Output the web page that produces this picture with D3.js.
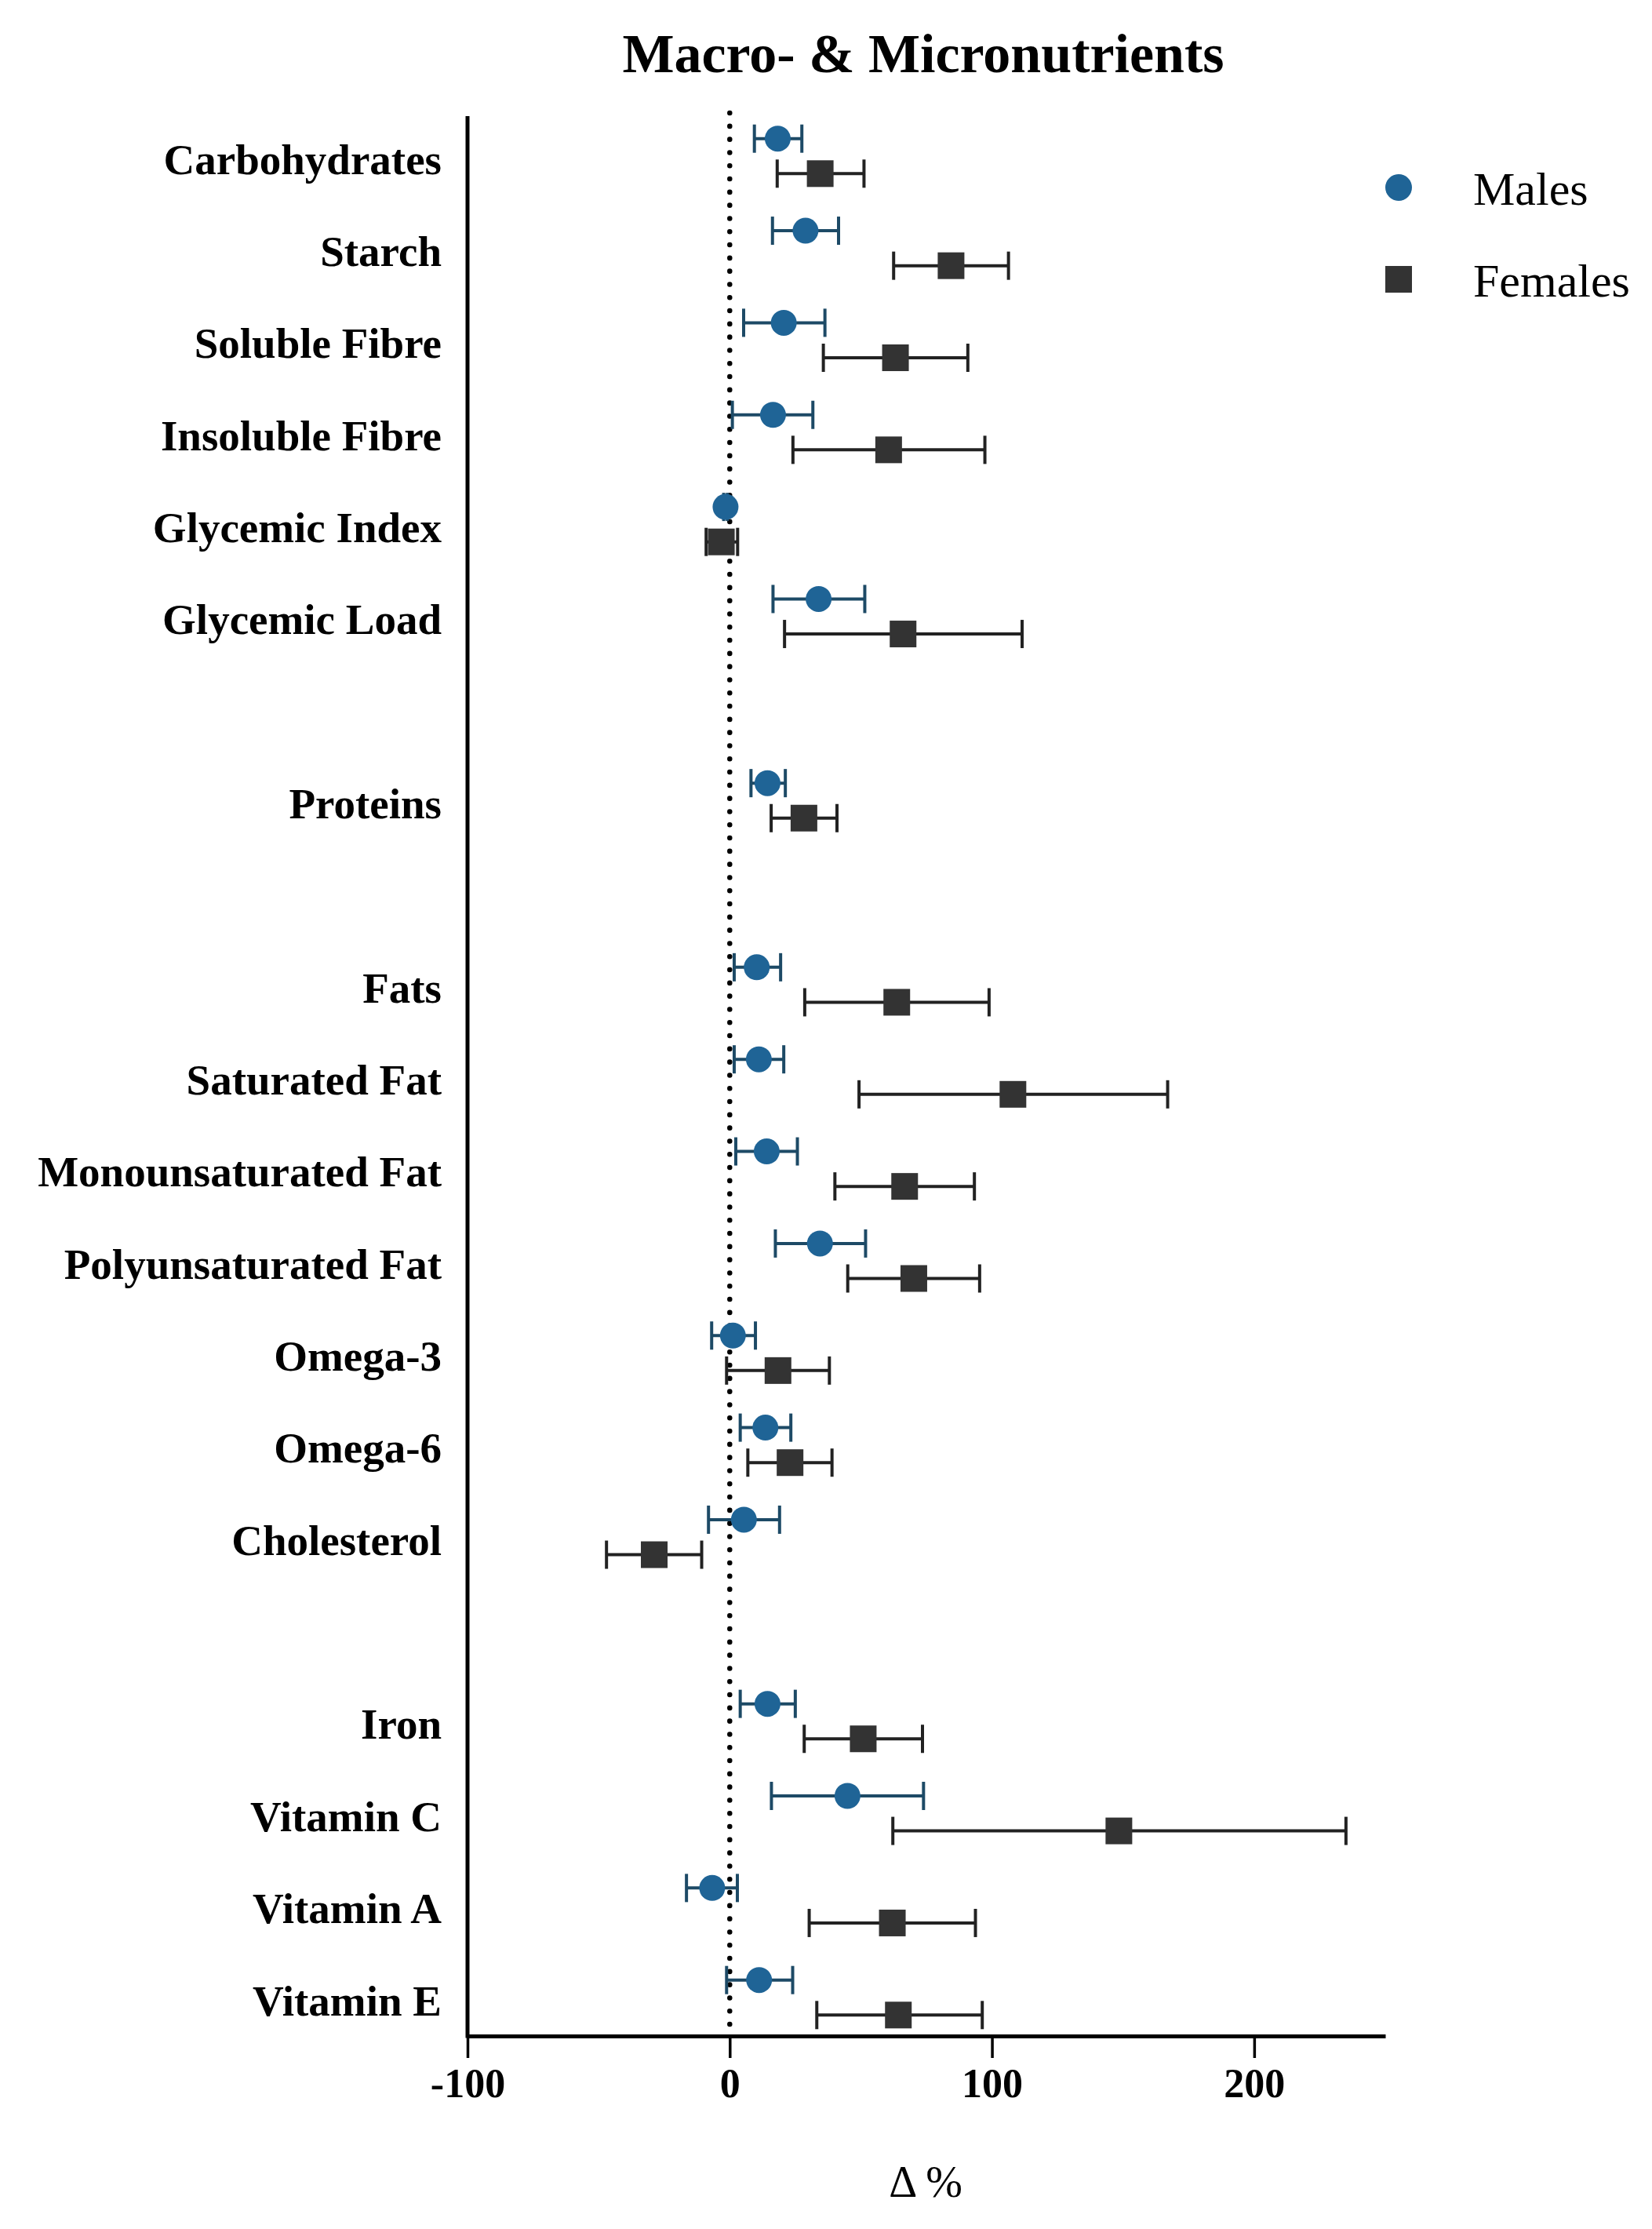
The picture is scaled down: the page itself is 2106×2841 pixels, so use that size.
<!DOCTYPE html>
<html>
<head>
<meta charset="utf-8">
<script src="https://cdn.jsdelivr.net/npm/d3@7"></script>
<style>
  body { margin: 0; background: #fff; }
  text { font-family: "Liberation Serif", "DejaVu Serif", serif; }
</style>
</head>
<body>
<div id="chart"></div>
<script>
// global const
const width = 2106, height = 2841;
const colors = { male: "#1f6496", maleBar: "#1d4a66", female: "#333333", femaleBar: "#222222", axis: "#000" };

// data
const categories = ["Carbohydrates", "Starch", "Soluble Fibre", "Insoluble Fibre", "Glycemic Index", "Glycemic Load",
    "Proteins",
    "Fats", "Saturated Fat", "Monounsaturated Fat", "Polyunsaturated Fat", "Omega-3", "Omega-6", "Cholesterol",
    "Iron", "Vitamin C", "Vitamin A", "Vitamin E"];
// rows of the chart, gaps between groups
const slots = ["Carbohydrates", "Starch", "Soluble Fibre", "Insoluble Fibre", "Glycemic Index", "Glycemic Load", "gap1",
    "Proteins", "gap2",
    "Fats", "Saturated Fat", "Monounsaturated Fat", "Polyunsaturated Fat", "Omega-3", "Omega-6", "Cholesterol", "gap3",
    "Iron", "Vitamin C", "Vitamin A", "Vitamin E"];

const maleMean = [18.3, 28.9, 20.6, 16.5, -1.6, 33.9, 14.4, 10.3, 11.1, 14.1, 34.4, 1.2, 13.6, 5.4, 14.4, 44.9, -6.7, 11.2];
const maleLow = [9.4, 16.3, 5.3, 1.0, -2.3, 16.5, 8.1, 1.7, 1.7, 2.3, 17.4, -6.9, 4.0, -8.1, 4.0, 15.9, -16.5, -1.2];
const maleHigh = [27.5, 41.5, 36.3, 31.7, -0.9, 51.5, 21.2, 19.4, 20.6, 25.8, 51.8, 9.8, 23.3, 19.0, 25.0, 73.9, 2.9, 24.0];

const femaleMean = [34.5, 84.4, 63.2, 60.6, -3.2, 66.1, 28.3, 63.7, 108.0, 66.7, 70.2, 18.4, 23.0, -28.8, 50.9, 148.4, 62.0, 64.3];
const femaleLow = [18.1, 62.5, 35.7, 24.1, -9.0, 20.9, 15.8, 28.6, 49.3, 40.1, 45.0, -1.2, 6.9, -47.0, 28.4, 62.2, 30.3, 33.2];
const femaleHigh = [51.2, 106.3, 90.8, 97.3, 3.0, 111.5, 40.9, 98.9, 167.0, 93.3, 95.3, 38.0, 39.0, -10.7, 73.5, 235.0, 93.7, 96.3];

const xTicks = [-100, 0, 100, 200];
const xDomain = [-100, 250];
const series = ["Males", "Females"];

// plot box
const plot = { left: 596, right: 1766, top: 148, bottom: 2595 };
const offset = 22.3;   // males above the row centre, females below
const capHalf = 18;

var svg = d3.select("#chart")
    .append("svg")
    .attr("width", width)
    .attr("height", height)
    .style("background-color", "#fff");

var xScale = d3.scaleLinear()
    .domain(xDomain)
    .range([plot.left, plot.right]);

var yScale = d3.scalePoint()
    .domain(slots)
    .range([199, 2546]);

const rows = categories.map((c, i) => ({
    name: c,
    m: maleMean[i], mLo: maleLow[i], mHi: maleHigh[i],
    f: femaleMean[i], fLo: femaleLow[i], fHi: femaleHigh[i]
}));

// title
svg.append("text")
    .attr("x", 1177)
    .attr("y", 92)
    .attr("text-anchor", "middle")
    .attr("font-size", 70)
    .attr("font-weight", "bold")
    .text("Macro- & Micronutrients");

// zero line, dotted
svg.append("line")
    .attr("x1", xScale(0)).attr("x2", xScale(0))
    .attr("y1", 144).attr("y2", plot.bottom)
    .attr("stroke", "#000")
    .attr("stroke-width", 6.5)
    .attr("stroke-linecap", "round")
    .attr("stroke-dasharray", "0.1 16.7");

// x axis
const xAxis = svg.append("g")
    .attr("transform", `translate(0, ${plot.bottom})`)
    .call(d3.axisBottom(xScale).tickValues(xTicks).tickSize(28).tickSizeOuter(0).tickPadding(13).tickFormat(d3.format("d")));
xAxis.select(".domain").attr("stroke-width", 5).attr("stroke", colors.axis);
xAxis.selectAll(".tick line").attr("stroke-width", 3.5).attr("stroke", colors.axis);
xAxis.selectAll(".tick text")
    .attr("font-size", 52)
    .attr("font-weight", "bold")
    .attr("font-family", "Liberation Serif, DejaVu Serif, serif")
    .attr("fill", "#000")
    .text(d => d < 0 ? "-" + Math.abs(d) : d);

// y axis: labels through the point scale, line drawn over the full box
const yAxis = svg.append("g")
    .attr("transform", `translate(${plot.left}, 0)`)
    .call(d3.axisLeft(yScale).tickValues(categories).tickSize(0).tickPadding(33));
yAxis.select(".domain").remove();
yAxis.selectAll(".tick text")
    .attr("font-size", 55)
    .attr("font-weight", "bold")
    .attr("font-family", "Liberation Serif, DejaVu Serif, serif")
    .attr("fill", "#000")
    .attr("dy", "0.4em");

svg.append("line")
    .attr("x1", plot.left).attr("x2", plot.left)
    .attr("y1", plot.top).attr("y2", plot.bottom + 2.5)
    .attr("stroke", colors.axis)
    .attr("stroke-width", 5);

// axis title
svg.append("text")
    .attr("x", 1180)
    .attr("y", 2800)
    .attr("text-anchor", "middle")
    .attr("font-size", 56)
    .text("Δ %");

// error bars
const drawBars = (key, dy, color) => {
    const g = svg.append("g").attr("stroke", color).attr("stroke-width", 4).attr("fill", "none");
    g.selectAll("line.h")
        .data(rows)
        .join("line")
        .attr("x1", d => xScale(d[key + "Lo"]))
        .attr("x2", d => xScale(d[key + "Hi"]))
        .attr("y1", d => yScale(d.name) + dy)
        .attr("y2", d => yScale(d.name) + dy);
    ["Lo", "Hi"].forEach(end => {
        g.selectAll("line.cap" + end)
            .data(rows)
            .join("line")
            .attr("class", "cap" + end)
            .attr("x1", d => xScale(d[key + end]))
            .attr("x2", d => xScale(d[key + end]))
            .attr("y1", d => yScale(d.name) + dy - capHalf)
            .attr("y2", d => yScale(d.name) + dy + capHalf);
    });
}

drawBars("f", offset, colors.femaleBar);
svg.selectAll("rect.female")
    .data(rows)
    .join("rect")
    .attr("class", "female")
    .attr("x", d => xScale(d.f) - 17)
    .attr("y", d => yScale(d.name) + offset - 17)
    .attr("width", 34)
    .attr("height", 34)
    .attr("fill", colors.female);

drawBars("m", -offset, colors.maleBar);
svg.selectAll("circle.male")
    .data(rows)
    .join("circle")
    .attr("class", "male")
    .attr("cx", d => xScale(d.m))
    .attr("cy", d => yScale(d.name) - offset)
    .attr("r", 16.5)
    .attr("fill", colors.male);

// legend
const legend = svg.append("g");
legend.append("circle")
    .attr("cx", 1783).attr("cy", 239).attr("r", 17)
    .attr("fill", colors.male);
legend.append("rect")
    .attr("x", 1766).attr("y", 339).attr("width", 34).attr("height", 34)
    .attr("fill", colors.female);
legend.selectAll("text")
    .data(series)
    .join("text")
    .attr("x", 1878)
    .attr("y", (d, i) => 261 + i * 117)
    .attr("font-size", 60)
    .text(d => d);
</script>
</body>
</html>
